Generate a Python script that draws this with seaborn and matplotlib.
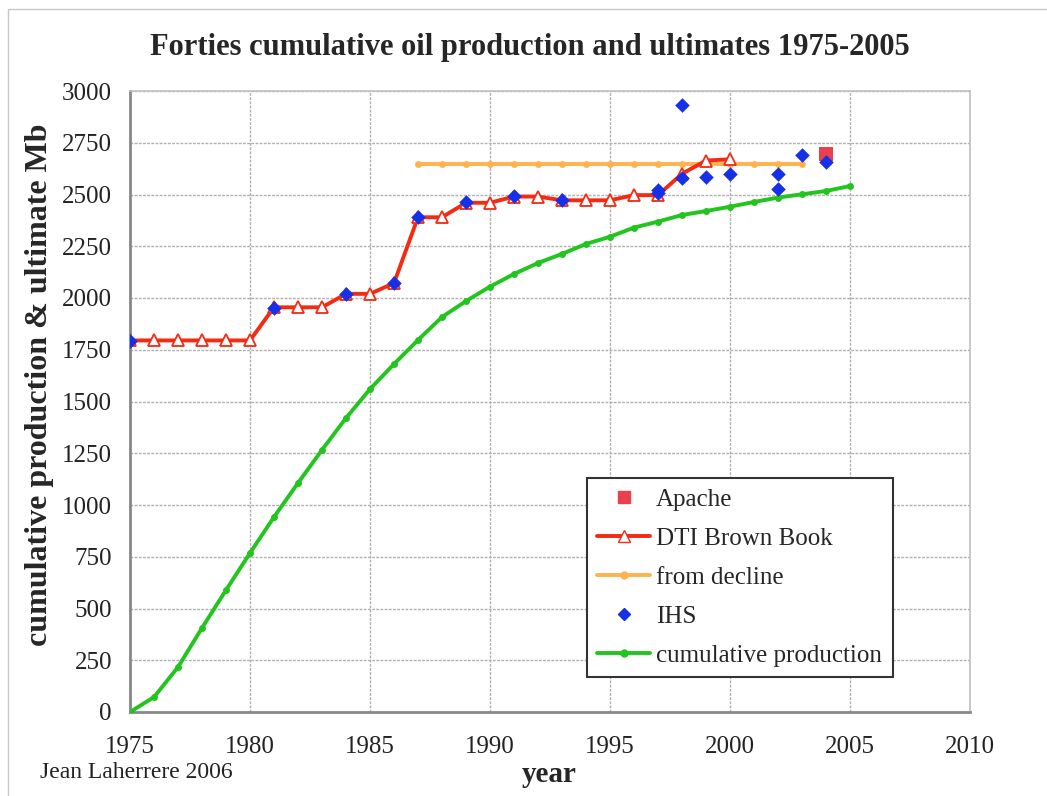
import matplotlib
matplotlib.use("Agg")
import matplotlib.pyplot as plt
import seaborn as sns
import pandas as pd
from matplotlib.lines import Line2D
from matplotlib.patches import Rectangle

# data (Mb)
years_prod = list(range(1975, 2006))
cum_prod = [0, 72, 217, 406, 589, 768, 942, 1106, 1266, 1420, 1560, 1681, 1797, 1908,
            1985, 2055, 2116, 2169, 2213, 2261, 2296, 2340, 2369, 2401, 2420, 2441,
            2464, 2485, 2501, 2517, 2541]

years_dti = list(range(1975, 2001))
dti = [1795, 1795, 1795, 1795, 1795, 1795, 1955, 1955, 1955, 2020, 2020, 2072,
       2390, 2390, 2460, 2460, 2490, 2490, 2472, 2472, 2472, 2497, 2497, 2600,
       2664, 2670]

years_decline = list(range(1987, 2004))
decline = [2648] * len(years_decline)

years_ihs = [1975, 1981, 1984, 1986, 1987, 1989, 1991, 1993, 1997, 1997, 1998, 1998,
             1999, 2000, 2002, 2002, 2003, 2004]
ihs = [1794, 1952, 2018, 2071, 2390, 2465, 2495, 2475, 2520, 2505, 2932, 2578,
       2583, 2599, 2599, 2525, 2692, 2657]

years_apache = [2004]
apache = [2696]

df_prod = pd.DataFrame({"year": years_prod, "value": cum_prod})
df_dti = pd.DataFrame({"year": years_dti, "value": dti})
df_dec = pd.DataFrame({"year": years_decline, "value": decline})
df_ihs = pd.DataFrame({"year": years_ihs, "value": ihs})
df_apa = pd.DataFrame({"year": years_apache, "value": apache})

sns.set_style("whitegrid")
plt.rcParams["font.family"] = ["Liberation Serif", "DejaVu Serif"]

fig = plt.figure(figsize=(10.47, 7.96), dpi=100)
ax = fig.add_axes([130 / 1047, 1 - 712 / 796, 840 / 1047, 621 / 796])

green = "#22c41e"
orange = "#ffb24d"
red = "#f52a12"
blue = "#1530e6"
apache_red = "#e8404c"

sns.lineplot(data=df_prod, x="year", y="value", ax=ax, color=green, lw=2.8,
             marker="o", markersize=5, markeredgewidth=0, zorder=3)
sns.lineplot(data=df_dec, x="year", y="value", ax=ax, color=orange, lw=2.8,
             marker="o", markersize=5, markeredgewidth=0, zorder=3)
sns.lineplot(data=df_dti, x="year", y="value", ax=ax, color=red, lw=2.8,
             marker="^", markersize=9, markerfacecolor="white",
             markeredgecolor=red, markeredgewidth=1.3, zorder=4)
sns.scatterplot(data=df_apa, x="year", y="value", ax=ax, color=apache_red,
                marker="s", s=100, linewidth=0, zorder=5)
sns.scatterplot(data=df_ihs, x="year", y="value", ax=ax, color=blue,
                marker="D", s=55, linewidth=0, zorder=6)

ax.set_xlim(1975, 2010)
ax.set_ylim(0, 3000)
ax.set_xticks(range(1975, 2011, 5))
ax.set_yticks(range(0, 3001, 250))
ax.grid(True, color="#b0b0b0", lw=1.0, ls=(0, (2, 1)))
ax.tick_params(axis="both", labelsize=18, colors="#222222", length=5,
               width=1, direction="out", pad=8)
ax.tick_params(axis="x", pad=12, color="#999999")
ax.tick_params(axis="y", color="#999999")
for side in ["top", "right"]:
    ax.spines[side].set_color("#c0c0c0")
    ax.spines[side].set_linewidth(1.2)
for side in ["left", "bottom"]:
    ax.spines[side].set_color("#888888")
    ax.spines[side].set_linewidth(2)

ax.set_xlabel("")
ax.set_ylabel("")
fig.text(549 / 1047, 1 - 774 / 796, "year", ha="center", va="center",
         fontsize=21, fontweight="bold")
fig.text(40 / 1047, 1 - 385 / 796, "cumulative production & ultimate Mb",
         ha="center", va="center", rotation=90, fontsize=23, fontweight="bold")
fig.text(530 / 1047, 1 - 47 / 796,
         "Forties cumulative oil production and ultimates 1975-2005",
         ha="center", va="center", fontsize=22, fontweight="bold")
fig.text(40 / 1047, 1 - 772 / 796, "Jean Laherrere 2006", ha="left",
         va="center", fontsize=17, color="#222222")

# thin outer frame
fig.patches.append(Rectangle((8 / 1047, -0.1), 2, 1 - 9 / 796 + 0.1,
                             transform=fig.transFigure, fill=False,
                             edgecolor="#c8c8c8", lw=1))

handles = [
    Line2D([], [], ls="none", marker="s", color=apache_red, markersize=9),
    Line2D([], [], color=red, lw=2.8, marker="^", markersize=9,
           markerfacecolor="white", markeredgecolor=red),
    Line2D([], [], color=orange, lw=2.8, marker="o", markersize=5),
    Line2D([], [], ls="none", marker="D", color=blue, markersize=6),
    Line2D([], [], color=green, lw=2.8, marker="o", markersize=5),
]
labels = ["Apache", "DTI Brown Book", "from decline", "IHS", "cumulative production"]
leg = ax.legend(handles, labels, loc="upper left",
                bbox_to_anchor=(0.544, 0.377), fontsize=18, frameon=True,
                fancybox=False, edgecolor="#333333", framealpha=1,
                handlelength=2.1, handletextpad=0.25, labelspacing=0.66,
                borderpad=0.42, borderaxespad=0)
leg.get_frame().set_linewidth(1.5)

fig.savefig("out.png", dpi=100)
